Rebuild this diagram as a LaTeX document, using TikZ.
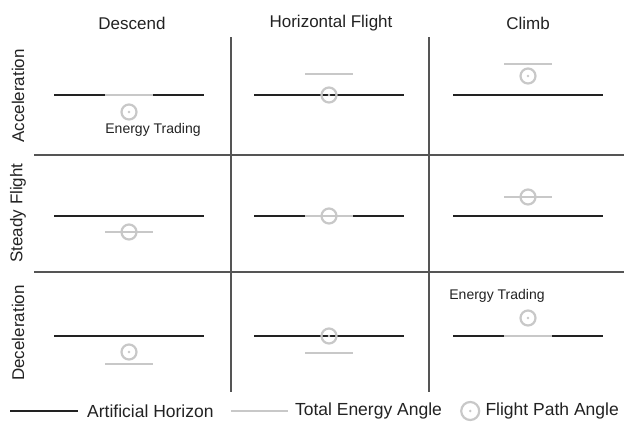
\documentclass[tikz,border=0pt]{standalone}
\usepackage{fontspec}
\setmainfont{Liberation Sans}
\usetikzlibrary{positioning}
\definecolor{hzcol}{HTML}{222222}
\definecolor{tecol}{HTML}{C8C8C8}
\definecolor{gridcol}{HTML}{555555}
\definecolor{txtcol}{HTML}{222222}
\tikzset{
  horizon/.style={line width=2.6pt,draw=hzcol},
  energy/.style={line width=2.6pt,draw=tecol},
  fpa/.style={circle,draw=tecol,line width=2.2pt,minimum size=15pt,inner sep=0pt},
  fpadot/.style={fpa,path picture={\fill[tecol] (path picture bounding box.center) circle (1.3pt);}},
  gridline/.style={line width=1.2pt,draw=gridcol},
  head/.style={font=\fontsize{17}{20}\selectfont,text=txtcol,inner sep=0pt},
  legend/.style={font=\fontsize{17.5}{20}\selectfont,text=txtcol,inner sep=0pt},
  note/.style={font=\fontsize{14}{16}\selectfont,text=txtcol,inner sep=0pt}
}

\begin{document}
\begin{tikzpicture}[x=1pt,y=-1pt]
\useasboundingbox (0,0) rectangle (624,424);
% headers
\node[head] (hdesc) at (132,23) {Descend};
\node[head] (hhor)  at (331,23) {Horizontal Flight};
\node[head] (hclimb) at (528,23) {Climb};
\node[head,rotate=90] (racc) at (18,96) {Acceleration};
\node[head,rotate=90] (rsteady) at (18,213) {Steady Flight};
\node[head,rotate=90] (rdec) at (18,333) {Deceleration};
% grid
\draw[gridline] (231,37) -- (231,392);
\draw[gridline] (429,37) -- (429,392);
\draw[gridline] (34,155) -- (624,155);
\draw[gridline] (34,272) -- (624,272);

% acceleration
\draw[horizon] (54,95) -- (204,95);
\draw[energy] (105,95) -- (153,95);
\node[fpadot] (f11) at (129,112) {};
\node[note] (et1) at (153,130) {Energy Trading};
\draw[energy] (305,74) -- (353,74);
\draw[horizon] (254,95) -- (404,95);
\node[fpadot] (f12) at (329,95) {};
\draw[energy] (504,64) -- (552,64);
\node[fpadot] (f13) at (528,76) {};
\draw[horizon] (453,95) -- (603,95);

% steady flight
\draw[horizon] (54,216) -- (204,216);
\draw[energy] (105,232) -- (153,232);
\node[fpa] (f21) at (129,232) {};
\draw[horizon] (254,216) -- (404,216);
\draw[energy] (305,216) -- (353,216);
\node[fpa] (f22) at (329,216) {};
\draw[energy] (504,197) -- (552,197);
\node[fpa] (f23) at (528,197) {};
\draw[horizon] (453,216) -- (603,216);

% deceleration
\draw[horizon] (54,336) -- (204,336);
\node[fpadot] (f31) at (129,352) {};
\draw[energy] (105,364) -- (153,364);
\draw[horizon] (254,336) -- (404,336);
\node[fpadot] (f32) at (329,336) {};
\draw[energy] (305,353) -- (353,353);
\node[note] (et3) at (497,296) {Energy Trading};
\node[fpadot] (f33) at (528,318) {};
\draw[horizon] (453,336) -- (603,336);
\draw[energy] (504,336) -- (552,336);

% legend
\coordinate (la) at (10,411);
\coordinate (lb) at (78,411);
\draw[horizon] (la) -- (lb);
\node[legend,right=9pt of lb] (lhor) {Artificial Horizon};
\coordinate[right=17pt of lhor] (lc);
\coordinate[right=57pt of lc] (ld);
\draw[energy] (lc) -- (ld);
\node[legend,right=7pt of ld] (lte) {Total Energy Angle};
\node[fpadot,minimum size=18pt,right=18pt of lte] (lfpa) {};
\node[legend,right=5pt of lfpa] (lfp) {Flight Path Angle};
\end{tikzpicture}
\end{document}
